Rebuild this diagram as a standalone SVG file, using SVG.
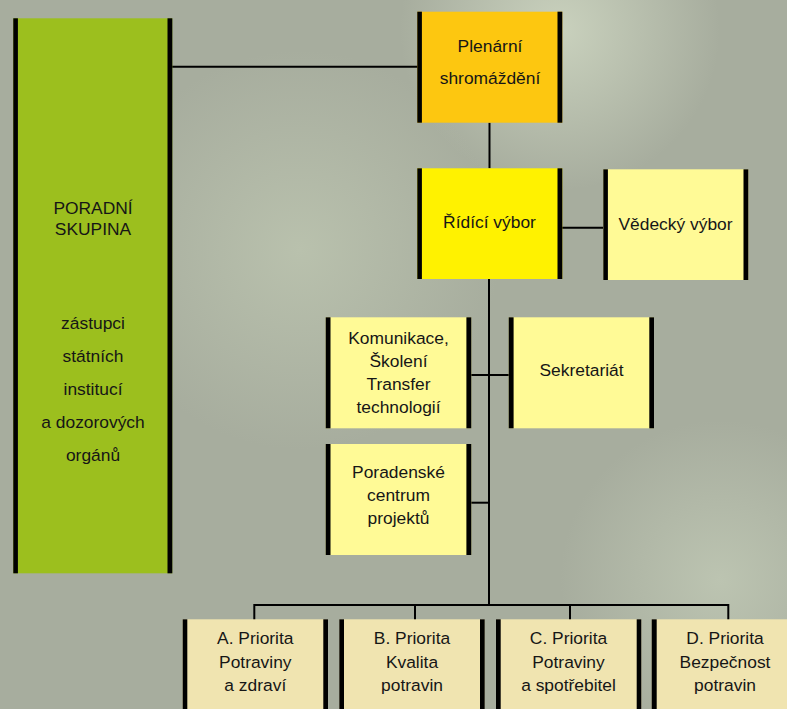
<svg xmlns="http://www.w3.org/2000/svg" width="787" height="709" viewBox="0 0 787 709">
<defs>
<radialGradient id="g1" cx="560" cy="30" r="160" gradientUnits="userSpaceOnUse"><stop offset="0" stop-color="#c9d1bd"/><stop offset="1" stop-color="#c9d1bd" stop-opacity="0"/></radialGradient>
<radialGradient id="g2" cx="300" cy="250" r="200" gradientUnits="userSpaceOnUse"><stop offset="0" stop-color="#b9c1ad"/><stop offset="1" stop-color="#b9c1ad" stop-opacity="0"/></radialGradient>
<radialGradient id="g3" cx="720" cy="580" r="160" gradientUnits="userSpaceOnUse"><stop offset="0" stop-color="#bcc4b1"/><stop offset="1" stop-color="#bcc4b1" stop-opacity="0"/></radialGradient>
<style>
.t{font-family:"Liberation Sans",Arial,sans-serif;font-size:17.4px;fill:#161616;text-anchor:middle}
.bar{fill:#000}
.ln{stroke:#000;stroke-width:2;fill:none}
.pale{fill:#fffa96}
.tan{fill:#f0e4b0}
</style>
</defs>
<rect width="787" height="709" fill="#a7ad9e"/>
<rect width="787" height="709" fill="url(#g1)"/>
<rect width="787" height="709" fill="url(#g2)"/>
<rect width="787" height="709" fill="url(#g3)"/>
<g id="connectors">
<line class="ln" x1="172" y1="66.7" x2="418" y2="66.7"/>
<line class="ln" x1="489.5" y1="122.7" x2="489.5" y2="168.3"/>
<line class="ln" x1="562" y1="227.7" x2="603" y2="227.7"/>
<line class="ln" x1="489" y1="279" x2="489" y2="606"/>
<line class="ln" x1="471" y1="375" x2="509" y2="375"/>
<line class="ln" x1="471" y1="502.7" x2="489" y2="502.7"/>
<line class="ln" x1="254.3" y1="605" x2="728.3" y2="605"/>
<line class="ln" x1="254.3" y1="604" x2="254.3" y2="620"/>
<line class="ln" x1="415" y1="605" x2="415" y2="620"/>
<line class="ln" x1="570" y1="605" x2="570" y2="620"/>
<line class="ln" x1="728.3" y1="604" x2="728.3" y2="620"/>
</g>
<g id="poradni">
<rect x="13.3" y="18.3" width="159" height="555" fill="#9cbf1e"/>
<rect class="bar" x="13.3" y="18.3" width="4.6" height="555"/>
<rect class="bar" x="167.5" y="18.3" width="4.8" height="555"/>
<text class="t" x="93" y="214">PORADNÍ</text>
<text class="t" x="93" y="235">SKUPINA</text>
<text class="t" x="93" y="329">zástupci</text>
<text class="t" x="93" y="362">státních</text>
<text class="t" x="93" y="395">institucí</text>
<text class="t" x="93" y="428.3">a dozorových</text>
<text class="t" x="93" y="461">orgánů</text>
</g>
<g id="plenarni">
<rect x="417.3" y="11.7" width="145" height="111" fill="#fdc710"/>
<rect class="bar" x="417.3" y="11.7" width="4.6" height="111"/>
<rect class="bar" x="557.5" y="11.7" width="4.8" height="111"/>
<text class="t" x="490" y="51.7">Plenární</text>
<text class="t" x="490" y="84">shromáždění</text>
</g>
<g id="ridici">
<rect x="417.3" y="168.3" width="145" height="110.7" fill="#fff200"/>
<rect class="bar" x="417.3" y="168.3" width="4.6" height="110.7"/>
<rect class="bar" x="557.5" y="168.3" width="4.8" height="110.7"/>
<text class="t" x="489.5" y="228.3">Řídící výbor</text>
</g>
<g id="vedecky">
<rect class="pale" x="603.3" y="169.3" width="145" height="110.7"/>
<rect class="bar" x="603.3" y="169.3" width="4.6" height="110.7"/>
<rect class="bar" x="743.5" y="169.3" width="4.8" height="110.7"/>
<text class="t" x="675.5" y="230">Vědecký výbor</text>
</g>
<g id="komunikace">
<rect class="pale" x="325.7" y="317.3" width="145.6" height="111"/>
<rect class="bar" x="325.7" y="317.3" width="4.8" height="111"/>
<rect class="bar" x="466.4" y="317.3" width="4.9" height="111"/>
<text class="t" x="398.5" y="344.3">Komunikace,</text>
<text class="t" x="398.5" y="366.7">Školení</text>
<text class="t" x="398.5" y="390">Transfer</text>
<text class="t" x="398.5" y="412.7">technologií</text>
</g>
<g id="sekretariat">
<rect class="pale" x="508.7" y="317.3" width="145.3" height="111"/>
<rect class="bar" x="508.7" y="317.3" width="4.9" height="111"/>
<rect class="bar" x="649.3" y="317.3" width="4.7" height="111"/>
<text class="t" x="581.5" y="376">Sekretariát</text>
</g>
<g id="poradenske">
<rect class="pale" x="325.7" y="444" width="145.6" height="111"/>
<rect class="bar" x="325.7" y="444" width="4.8" height="111"/>
<rect class="bar" x="466.4" y="444" width="4.9" height="111"/>
<text class="t" x="398.5" y="478.3">Poradenské</text>
<text class="t" x="398.5" y="501.3">centrum</text>
<text class="t" x="398.5" y="524">projektů</text>
</g>
<g id="prioritaA">
<rect class="tan" x="182.7" y="619.3" width="145.3" height="100"/>
<rect class="bar" x="182.7" y="619.3" width="4.6" height="100"/>
<rect class="bar" x="323.3" y="619.3" width="4.7" height="100"/>
<text class="t" x="255.3" y="644.3">A. Priorita</text>
<text class="t" x="255.3" y="667.7">Potraviny</text>
<text class="t" x="255.3" y="690.7">a zdraví</text>
</g>
<g id="prioritaB">
<rect class="tan" x="339.3" y="619.3" width="145.4" height="100"/>
<rect class="bar" x="339.3" y="619.3" width="4.7" height="100"/>
<rect class="bar" x="480" y="619.3" width="4.7" height="100"/>
<text class="t" x="412" y="644.3">B. Priorita</text>
<text class="t" x="412" y="667.7">Kvalita</text>
<text class="t" x="412" y="690.7">potravin</text>
</g>
<g id="prioritaC">
<rect class="tan" x="496" y="619.3" width="145.3" height="100"/>
<rect class="bar" x="496" y="619.3" width="4.7" height="100"/>
<rect class="bar" x="636.7" y="619.3" width="4.6" height="100"/>
<text class="t" x="568.5" y="644.3">C. Priorita</text>
<text class="t" x="568.5" y="667.7">Potraviny</text>
<text class="t" x="568.5" y="690.7">a spotřebitel</text>
</g>
<g id="prioritaD">
<rect class="tan" x="651.7" y="619.3" width="145.3" height="100"/>
<rect class="bar" x="651.7" y="619.3" width="5" height="100"/>
<text class="t" x="725" y="644.3">D. Priorita</text>
<text class="t" x="725" y="667.7">Bezpečnost</text>
<text class="t" x="725" y="690.7">potravin</text>
</g>
</svg>
